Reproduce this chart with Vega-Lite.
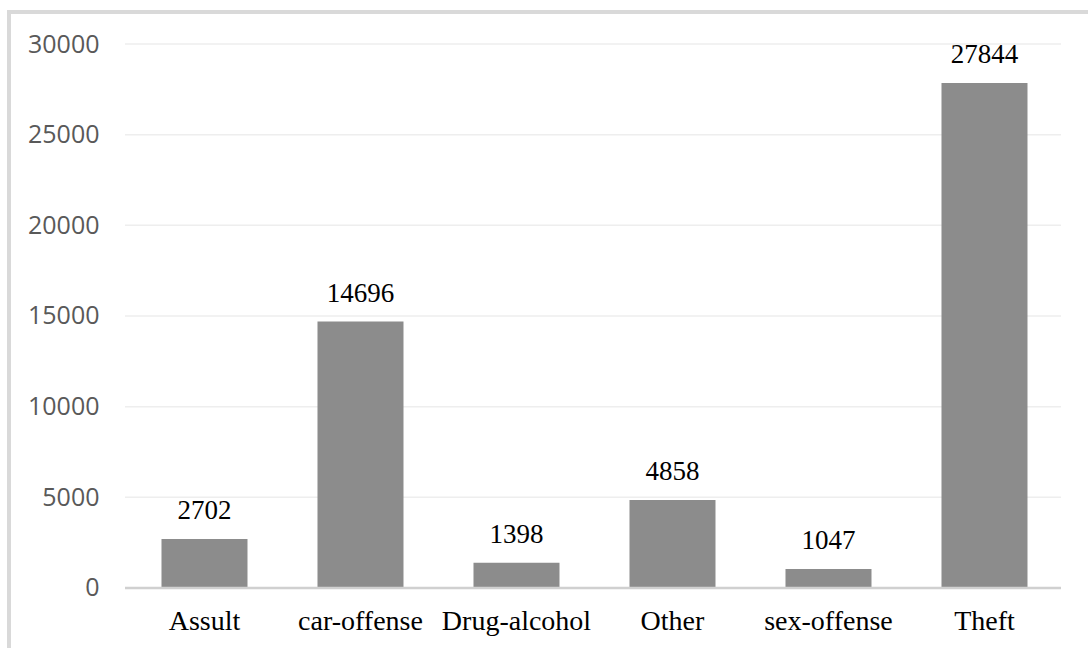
{
  "$schema": "https://vega.github.io/schema/vega-lite/v6.json",
  "autosize": {"type": "none"},
  "width": 1084,
  "height": 641,
  "padding": {"left": 9, "top": 12, "right": -5, "bottom": -5},
  "background": "white",
  "config": {
    "view": {"stroke": "#d9d9d9", "strokeWidth": 4, "fill": "white"}
  },
  "datasets": {
    "crimes": [
      {"category": "Assult", "count": 2702},
      {"category": "car-offense", "count": 14696},
      {"category": "Drug-alcohol", "count": 1398},
      {"category": "Other", "count": 4858},
      {"category": "sex-offense", "count": 1047},
      {"category": "Theft", "count": 27844}
    ],
    "grid": [
      {"v": 5000}, {"v": 10000}, {"v": 15000}, {"v": 20000}, {"v": 25000}, {"v": 30000}
    ],
    "base": [{"v": 0}]
  },
  "layer": [
    {
      "data": {"name": "grid"},
      "mark": {"type": "rule", "color": "#eeeeee", "strokeWidth": 1.5},
      "encoding": {
        "x": {"datum": "Assult", "type": "nominal", "bandPosition": -0.4244},
        "x2": {"datum": "Theft", "bandPosition": 1.3895},
        "y": {"field": "v", "type": "quantitative"}
      }
    },
    {
      "data": {"name": "crimes"},
      "mark": {"type": "bar", "color": "#8c8c8c"},
      "encoding": {
        "x": {
          "field": "category",
          "type": "nominal",
          "sort": null,
          "scale": {
            "domain": ["Assult", "car-offense", "Drug-alcohol", "Other", "sex-offense", "Theft"],
            "paddingInner": 0.4487,
            "paddingOuter": 0.6987,
            "align": 0.6995
          },
          "axis": {
            "title": null,
            "orient": "bottom",
            "offset": -65,
            "domain": false,
            "ticks": false,
            "grid": false,
            "labelAngle": 0,
            "labelAlign": "center",
            "labelBaseline": "top",
            "labelFont": "Liberation Serif",
            "labelFontSize": 28,
            "labelColor": "#000000",
            "labelPadding": 19
          }
        },
        "y": {
          "field": "count",
          "type": "quantitative",
          "scale": {"domain": [-3585, 31765], "nice": false, "zero": false},
          "axis": {
            "title": null,
            "orient": "left",
            "offset": -90,
            "values": [0, 5000, 10000, 15000, 20000, 25000, 30000],
            "format": "d",
            "domain": false,
            "ticks": false,
            "grid": false,
            "labelPadding": 0,
            "labelFont": "Open Sans",
            "labelFontSize": 25,
            "labelColor": "#595959"
          }
        },
        "y2": {"datum": 0}
      }
    },
    {
      "data": {"name": "base"},
      "mark": {"type": "rule", "color": "#d0d0d0", "strokeWidth": 2.5},
      "encoding": {
        "x": {"datum": "Assult", "type": "nominal", "bandPosition": -0.4244},
        "x2": {"datum": "Theft", "bandPosition": 1.3895},
        "y": {"field": "v", "type": "quantitative"}
      }
    },
    {
      "data": {"name": "crimes"},
      "mark": {
        "type": "text",
        "font": "Liberation Serif",
        "fontSize": 27,
        "color": "#000000",
        "baseline": "alphabetic",
        "dy": -20
      },
      "encoding": {
        "x": {"field": "category", "type": "nominal", "sort": null},
        "y": {"field": "count", "type": "quantitative"},
        "text": {"field": "count", "type": "quantitative", "format": "d"}
      }
    }
  ]
}
